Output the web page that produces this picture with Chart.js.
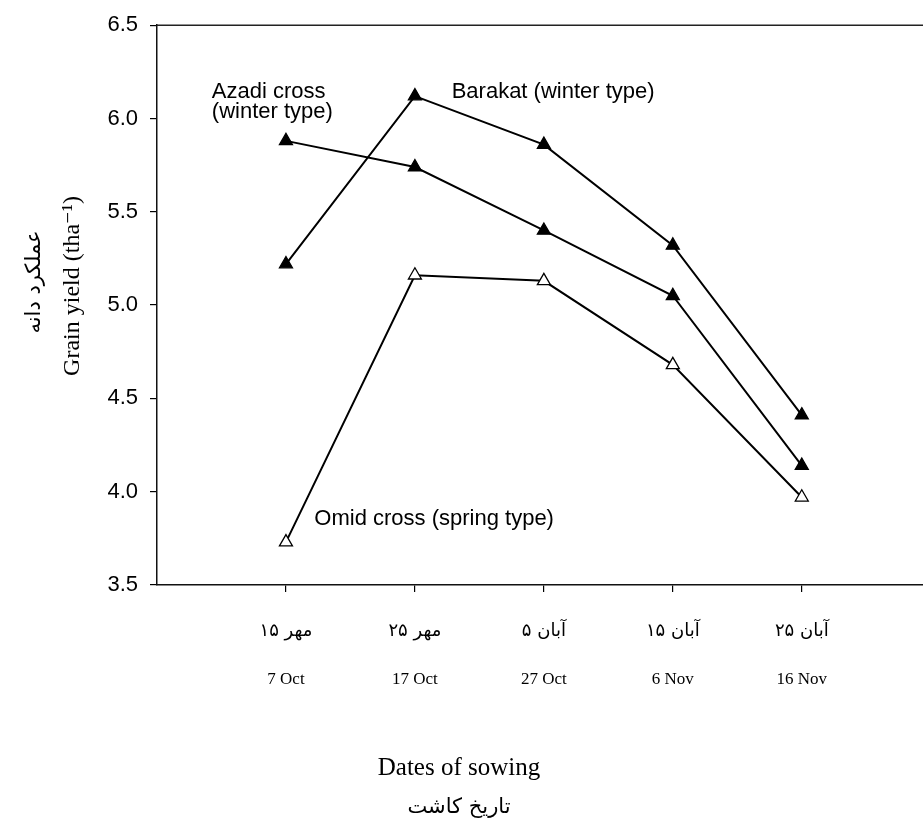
<!DOCTYPE html>
<html>
<head>
<meta charset="utf-8">
<script src="https://cdn.jsdelivr.net/npm/chart.js@4.4.1/dist/chart.umd.min.js"></script>
<style>
  html, body { margin: 0; padding: 0; background: #fff; overflow: hidden; }
  #wrap { width: 923px; height: 837px; }
</style>
</head>
<body>
<div id="wrap"><canvas id="yieldChart" width="923" height="837"></canvas></div>
<script>
// sowing dates (Persian calendar + Gregorian)
const datesFa = ['۱۵ مهر', '۲۵ مهر', '۵ آبان', '۱۵ آبان', '۲۵ آبان'];
const datesEn = ['7 Oct', '17 Oct', '27 Oct', '6 Nov', '16 Nov'];
const datePos = [1, 2, 3, 4, 5];

// grain yield, t/ha
const barakat = [5.22, 6.12, 5.86, 5.32, 4.41];
const azadi = [5.88, 5.74, 5.40, 5.05, 4.14];
const omid = [3.73, 5.16, 5.13, 4.68, 3.97];

const yTicks = [3.5, 4.0, 4.5, 5.0, 5.5, 6.0, 6.5];

// in-plot series labels, anchored in data units
const seriesLabels = [
  { lines: ['Azadi cross', '(winter type)'], x: 0.425, y: 6.14 },
  { lines: ['Barakat (winter type)'], x: 2.285, y: 6.14 },
  { lines: ['Omid cross (spring type)'], x: 1.22, y: 3.855 }
];

const sans = '"Liberation Sans", Arial, sans-serif';
const serif = '"Liberation Serif", "DejaVu Sans", serif';
const LRM = '\u200E'; // keep the figure's left-to-right order for the Persian dates

const toPoints = arr => datePos.map((x, i) => ({ x: x, y: arr[i] }));
const setXTicks = s => { s.ticks = datePos.map(v => ({ value: v })); };

const textPlugin = {
  id: 'textPlugin',
  afterDraw(chart) {
    const { ctx, chartArea, scales } = chart;
    ctx.save();
    // top frame line
    ctx.strokeStyle = '#222';
    ctx.lineWidth = 1.4;
    ctx.beginPath();
    ctx.moveTo(chartArea.left, chartArea.top);
    ctx.lineTo(chartArea.right, chartArea.top);
    ctx.stroke();

    ctx.fillStyle = '#000';
    ctx.font = '22px ' + sans;
    ctx.textAlign = 'left';
    ctx.textBaseline = 'middle';
    seriesLabels.forEach(l => {
      const px = scales.x.getPixelForValue(l.x);
      const py = scales.y.getPixelForValue(l.y);
      l.lines.forEach((t, i) => ctx.fillText(t, px, py + i * 20));
    });

    // axis titles
    ctx.textAlign = 'center';
    ctx.font = '25px ' + serif;
    ctx.fillText('Dates of sowing', 459, 768);
    ctx.font = '21px "DejaVu Sans"';
    ctx.fillText('تاریخ کاشت', 459, 808);

    ctx.save();
    ctx.translate(73, 286);
    ctx.rotate(-Math.PI / 2);
    ctx.font = '24px ' + serif;
    ctx.fillText('Grain yield (tha⁻¹)', 0, 0);
    ctx.restore();

    ctx.save();
    ctx.translate(35, 282);
    ctx.rotate(-Math.PI / 2);
    ctx.font = '21px "DejaVu Sans"';
    ctx.fillText('عملکرد دانه', 0, 0);
    ctx.restore();

    ctx.restore();
  }
};

const lineStyle = {
  borderColor: '#000',
  borderWidth: 2,
  pointStyle: 'triangle',
  pointRadius: 7.5,
  pointBorderColor: '#000',
  pointBorderWidth: 1.3,
  tension: 0,
  fill: false
};

const ctx = document.getElementById('yieldChart').getContext('2d');
const yieldChart = new Chart(ctx, {
  type: 'line',
  data: {
    datasets: [
      Object.assign({ label: 'Barakat (winter type)', data: toPoints(barakat), pointBackgroundColor: '#000' }, lineStyle),
      Object.assign({ label: 'Azadi cross (winter type)', data: toPoints(azadi), pointBackgroundColor: '#000' }, lineStyle),
      Object.assign({ label: 'Omid cross (spring type)', data: toPoints(omid), pointBackgroundColor: '#fff' }, lineStyle)
    ]
  },
  options: {
    responsive: false,
    animation: false,
    devicePixelRatio: 1,
    layout: { autoPadding: false, padding: { top: 23, left: 0, right: 0, bottom: 0 } },
    plugins: {
      legend: { display: false },
      tooltip: { enabled: false }
    },
    scales: {
      x: {
        type: 'linear',
        position: 'bottom',
        weight: 0,
        min: 0,
        max: 5.94,
        afterBuildTicks: setXTicks,
        afterFit: s => { s.height = 70; s.paddingLeft = 0; s.paddingRight = 0; },
        grid: { drawOnChartArea: false, drawTicks: true, tickLength: 7, color: '#000', lineWidth: 1.2 },
        border: { display: true, color: '#111', width: 1.5 },
        ticks: {
          callback: v => datePos.includes(v) ? LRM + datesFa[datePos.indexOf(v)] : '',
          font: { family: '"DejaVu Sans"', size: 18 },
          color: '#000',
          padding: 29,
          maxRotation: 0,
          autoSkip: false
        }
      },
      x2: {
        type: 'linear',
        position: 'bottom',
        weight: 1,
        min: 0,
        max: 5.94,
        afterBuildTicks: setXTicks,
        afterFit: s => { s.height = 182; s.paddingLeft = 0; s.paddingRight = 0; },
        grid: { display: false },
        border: { display: false },
        ticks: {
          callback: v => datesEn[datePos.indexOf(v)] || '',
          font: { family: serif, size: 17 },
          color: '#000',
          padding: 6,
          maxRotation: 0,
          autoSkip: false
        }
      },
      y: {
        min: 3.5,
        max: 6.5,
        afterBuildTicks: s => { s.ticks = yTicks.map(v => ({ value: v })); },
        afterFit: s => { s.width = 157; },
        grid: { drawOnChartArea: false, drawTicks: true, tickLength: 7, color: '#000', lineWidth: 1.2 },
        border: { display: true, color: '#111', width: 1.5 },
        ticks: {
          callback: v => v.toFixed(1),
          font: { family: sans, size: 22 },
          color: '#000',
          padding: 12
        }
      }
    }
  },
  plugins: [textPlugin]
});
</script>
</body>
</html>
